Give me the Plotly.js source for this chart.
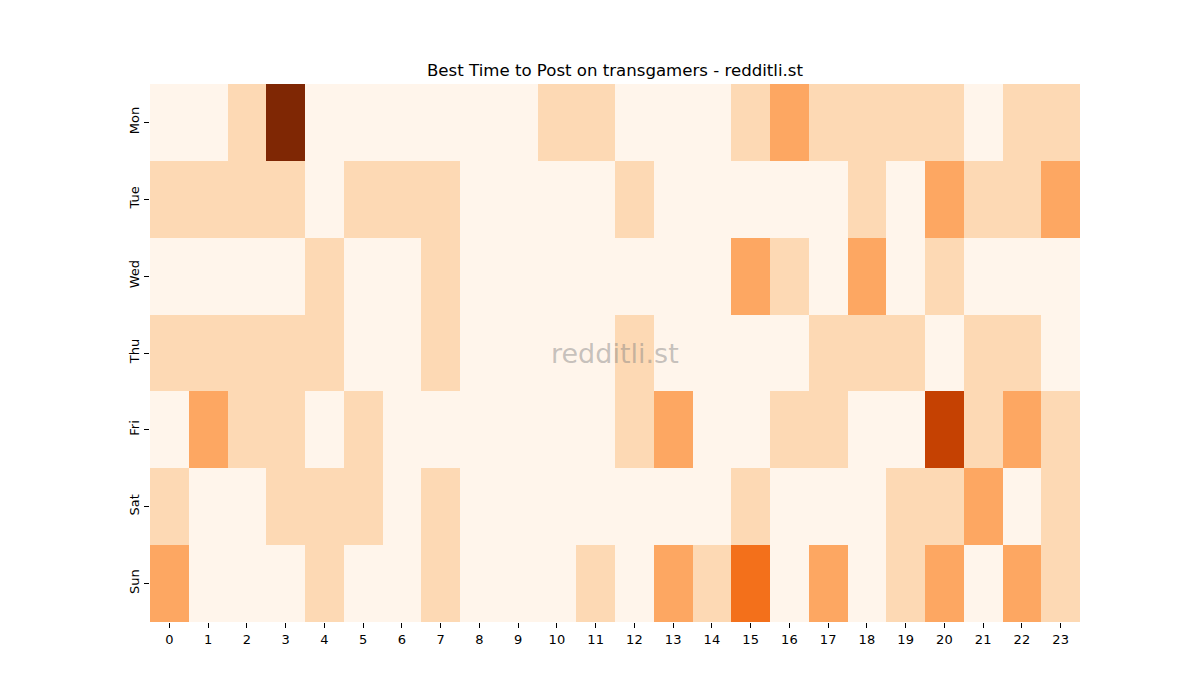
<!DOCTYPE html>
<html>
<head>
<meta charset="utf-8">
<script src="https://cdn.plot.ly/plotly-3.0.1.min.js"></script>
<style>html,body{margin:0;padding:0;background:#fff;}#chart{width:1200px;height:700px;}</style>
</head>
<body>
<div id="chart"></div>
<script>
const days = ["Mon", "Tue", "Wed", "Thu", "Fri", "Sat", "Sun"];
const hours = [0,1,2,3,4,5,6,7,8,9,10,11,12,13,14,15,16,17,18,19,20,21,22,23];
const mon = [0,0,1,5,0,0,0,0,0,0,1,1,0,0,0,1,2,1,1,1,1,0,1,1];
const tue = [1,1,1,1,0,1,1,1,0,0,0,0,1,0,0,0,0,0,1,0,2,1,1,2];
const wed = [0,0,0,0,1,0,0,1,0,0,0,0,0,0,0,2,1,0,2,0,1,0,0,0];
const thu = [1,1,1,1,1,0,0,1,0,0,0,0,1,0,0,0,0,1,1,1,0,1,1,0];
const fri = [0,2,1,1,0,1,0,0,0,0,0,0,1,2,0,0,1,1,0,0,4,1,2,1];
const sat = [1,0,0,1,1,1,0,1,0,0,0,0,0,0,0,1,0,0,0,1,1,2,0,1];
const sun = [2,0,0,0,1,0,0,1,0,0,0,1,0,2,1,3,0,2,0,1,2,0,2,1];
const z = [mon, tue, wed, thu, fri, sat, sun];

const oranges = [
  [0.0, "#fff5eb"], [0.125, "#fee6ce"], [0.25, "#fdd0a2"], [0.375, "#fdae6b"],
  [0.5, "#fd8d3c"], [0.625, "#f16913"], [0.75, "#d94801"], [0.875, "#a63603"], [1.0, "#7f2704"]
];

const trace = {
  type: "heatmap",
  z: z,
  x: hours,
  y: days,
  colorscale: oranges,
  zmin: 0, zmax: 5,
  showscale: false,
  xgap: 0, ygap: 0,
  hoverinfo: "x+y+z"
};

const layout = {
  width: 1200, height: 700,
  margin: {l: 150, r: 120, t: 84, b: 78},
  paper_bgcolor: "#fff", plot_bgcolor: "#fff",
  font: {family: "DejaVu Sans", color: "#000", size: 13},
  title: {text: "Best Time to Post on transgamers - redditli.st", xref: "paper", x: 0.5, xanchor: "center", y: 1 - 70/700, yanchor: "middle", font: {size: 16.6, family: "DejaVu Sans", color: "#000"}},
  xaxis: {type: "category", tickvals: hours, ticktext: hours.map(String), ticks: "outside", ticklen: 5, tickwidth: 1, tickcolor: "#000", showgrid: false, zeroline: false, showline: false, tickfont: {size: 13}},
  yaxis: {type: "category", autorange: "reversed", ticks: "outside", ticklen: 5, tickwidth: 1, tickcolor: "#000", showgrid: false, zeroline: false, showline: false, tickangle: -90, tickfont: {size: 13}},
  annotations: [{
    text: "redditli.st", xref: "paper", yref: "paper", x: 0.5, y: 0.5, showarrow: false,
    font: {size: 27, family: "DejaVu Sans", color: "rgba(128,128,128,0.45)"}
  }]
};

Plotly.newPlot("chart", [trace], layout, {displayModeBar: false});
</script>
</body>
</html>
